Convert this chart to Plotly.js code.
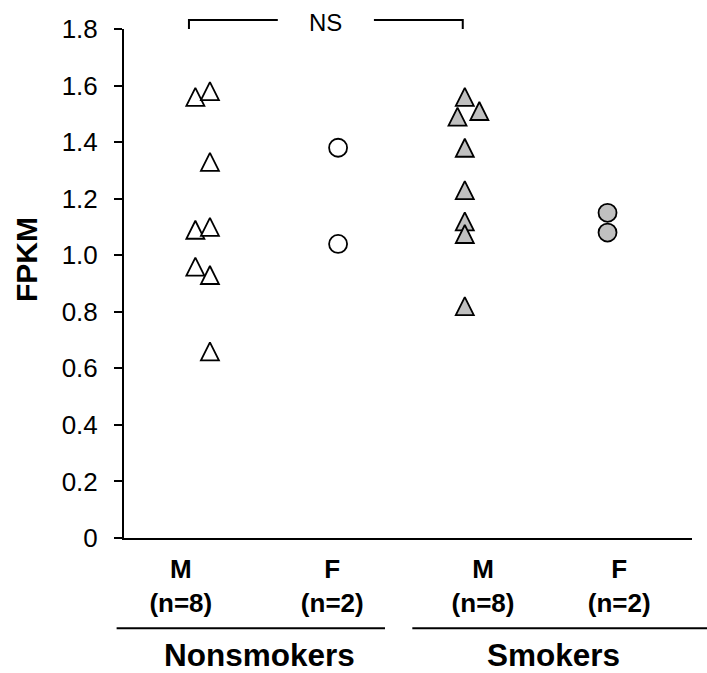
<!DOCTYPE html>
<html>
<head>
<meta charset="utf-8">
<script src="https://cdn.plot.ly/plotly-3.0.1.min.js"></script>
<style>html,body{margin:0;padding:0;background:#fff;}#chart{width:707px;height:673px;}</style>
</head>
<body>
<div id="chart"></div>
<script>
// ---- data ----
var nsMaleX = [1.09, 1.19, 1.19, 1.09, 1.19, 1.09, 1.19, 1.19];
var nsMaleY = [1.56, 1.58, 1.33, 1.09, 1.10, 0.96, 0.93, 0.66];
var nsFemaleX = [2.07, 2.07];
var nsFemaleY = [1.38, 1.04];
var smMaleX = [2.94, 2.89, 3.04, 2.94, 2.94, 2.94, 2.94, 2.94];
var smMaleY = [1.56, 1.49, 1.51, 1.38, 1.23, 1.12, 1.075, 0.82];
var smFemaleX = [3.92, 3.92];
var smFemaleY = [1.15, 1.08];
var catPos = [0.99, 2.03, 3.065, 4.0];
var catLabels = ['<b>M</b><br><b>(n=8)</b>', '<b>F</b><br><b>(n=2)</b>', '<b>M</b><br><b>(n=8)</b>', '<b>F</b><br><b>(n=2)</b>'];
var yTickVals = [0, 0.2, 0.4, 0.6, 0.8, 1.0, 1.2, 1.4, 1.6, 1.8];
var yTickText = ['0', '0.2', '0.4', '0.6', '0.8', '1.0', '1.2', '1.4', '1.6', '1.8'];
var groups = ['Nonsmokers', 'Smokers'];
var bracketX = [1.046, 2.926];
var sigLabel = 'NS';

// ---- styles ----
var FONT = 'Liberation Sans, Arial, sans-serif';
var triSize = 18;
function tri(fill) {
  return {symbol: 'arrow-down', angle: 180, standoff: triSize / 2, size: triSize,
          color: fill, line: {color: '#000', width: 1.8}};
}
function circ(fill) {
  return {symbol: 'circle', size: 18, color: fill, line: {color: '#000', width: 1.8}};
}
var traces = [
  {x: nsMaleX, y: nsMaleY, type: 'scatter', mode: 'markers', marker: tri('#ffffff'), cliponaxis: false},
  {x: nsFemaleX, y: nsFemaleY, type: 'scatter', mode: 'markers', marker: circ('#ffffff'), cliponaxis: false},
  {x: smMaleX, y: smMaleY, type: 'scatter', mode: 'markers', marker: tri('#c0c0c0'), cliponaxis: false},
  {x: smFemaleX, y: smFemaleY, type: 'scatter', mode: 'markers', marker: circ('#c0c0c0'), cliponaxis: false}
];

var mid = (bracketX[0] + bracketX[1]) / 2;
var gap = 0.33;
var layout = {
  width: 707, height: 673,
  margin: {l: 124, r: 15, t: 29, b: 135},
  paper_bgcolor: '#fff', plot_bgcolor: '#fff',
  showlegend: false,
  font: {family: FONT, color: '#000'},
  xaxis: {
    range: [0.6, 4.5], showgrid: false, zeroline: false,
    showline: true, linecolor: '#000', linewidth: 2,
    ticks: '', tickvals: catPos, ticktext: catLabels,
    tickfont: {family: FONT, size: 26, color: '#000'}, ticklabelstandoff: 7
  },
  yaxis: {
    range: [0, 1.8], showgrid: false, zeroline: false,
    showline: true, linecolor: '#000', linewidth: 2,
    ticks: 'outside', ticklen: 8, tickwidth: 2, tickcolor: '#000',
    tickvals: yTickVals, ticktext: yTickText,
    tickfont: {family: FONT, size: 26, color: '#000'}, ticklabelstandoff: 11
  },
  shapes: [
    {type: 'path', xref: 'x', yref: 'paper',
     path: 'M' + bracketX[0] + ',1.0 L' + bracketX[0] + ',1.0177 L' + (mid - gap) + ',1.0177',
     line: {color: '#000', width: 2}},
    {type: 'path', xref: 'x', yref: 'paper',
     path: 'M' + (mid + gap) + ',1.0177 L' + bracketX[1] + ',1.0177 L' + bracketX[1] + ',1.0',
     line: {color: '#000', width: 2}},
    {type: 'line', xref: 'paper', yref: 'paper', x0: -0.013, x1: 0.4595, y0: -0.1774, y1: -0.1774,
     line: {color: '#000', width: 2}},
    {type: 'line', xref: 'paper', yref: 'paper', x0: 0.5076, x1: 1.03, y0: -0.1774, y1: -0.1774,
     line: {color: '#000', width: 2}}
  ],
  annotations: [
    {text: sigLabel, xref: 'x', yref: 'paper', x: mid, y: 1.0133, showarrow: false,
     xanchor: 'center', yanchor: 'middle', font: {family: FONT, size: 24, color: '#000'}},
    {text: '<b>' + groups[0] + '</b>', xref: 'paper', yref: 'paper', x: 0.2377, y: -0.2299, showarrow: false,
     xanchor: 'center', yanchor: 'middle', font: {family: FONT, size: 31.5, color: '#000'}},
    {text: '<b>' + groups[1] + '</b>', xref: 'paper', yref: 'paper', x: 0.757, y: -0.2299, showarrow: false,
     xanchor: 'center', yanchor: 'middle', font: {family: FONT, size: 31.5, color: '#000'}},
    {text: '<b>FPKM</b>', xref: 'paper', yref: 'paper', x: -0.1725, y: 0.546, showarrow: false,
     textangle: -90, xanchor: 'center', yanchor: 'middle', font: {family: FONT, size: 30, color: '#000'}}
  ]
};
Plotly.newPlot('chart', traces, layout, {staticPlot: true, displayModeBar: false});
</script>
</body>
</html>
